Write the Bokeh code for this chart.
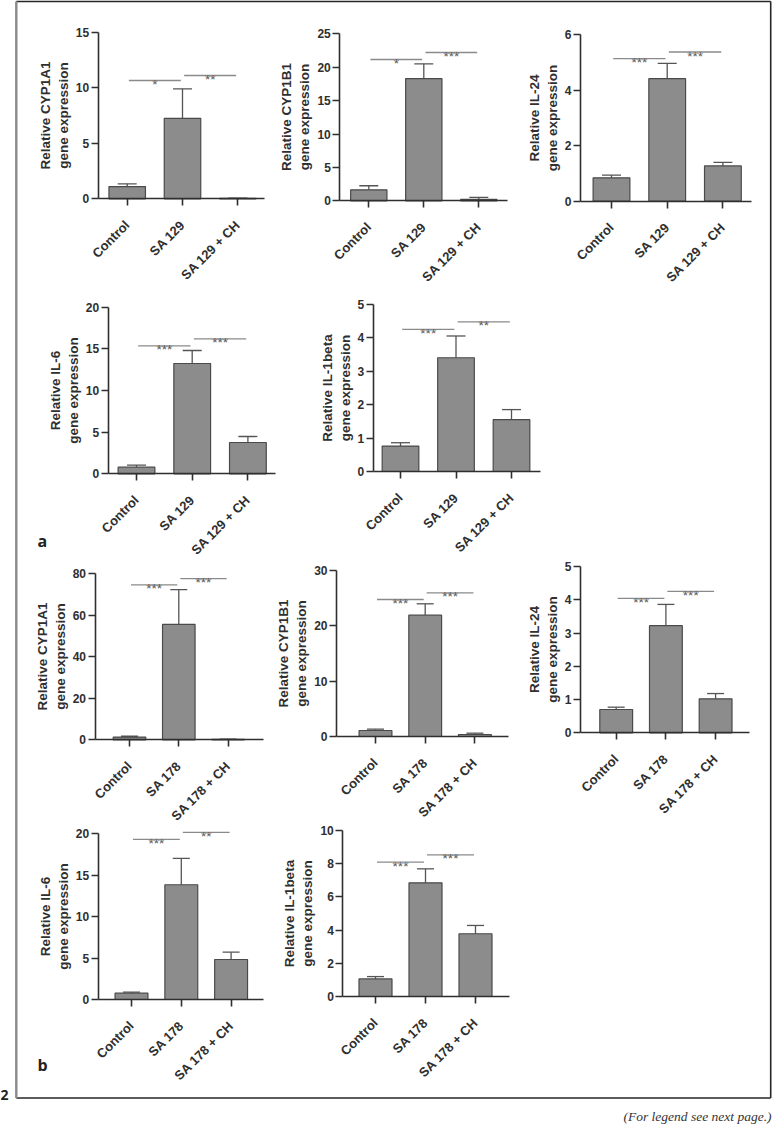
import math
from bokeh.plotting import figure
from bokeh.models import Range1d, LinearAxis, FixedTicker, Whisker, TeeHead, ColumnDataSource, Label
from bokeh.core.properties import value
from bokeh.embed import file_html
from bokeh.resources import INLINE

# ---------------- data ----------------
groups_a = ["Control", "SA 129", "SA 129 + CH"]
groups_b = ["Control", "SA 178", "SA 178 + CH"]
genes = ["CYP1A1", "CYP1B1", "IL-24", "IL-6", "IL-1beta"]

a_cyp1a1_mean = [1.10, 7.25, 0.04]
a_cyp1a1_err = [0.25, 2.65, 0.02]
a_cyp1b1_mean = [1.65, 18.3, 0.20]
a_cyp1b1_err = [0.60, 2.20, 0.30]
a_il24_mean = [0.84, 4.41, 1.27]
a_il24_err = [0.10, 0.55, 0.13]
a_il6_mean = [0.80, 13.24, 3.76]
a_il6_err = [0.25, 1.56, 0.72]
a_il1b_mean = [0.76, 3.40, 1.55]
a_il1b_err = [0.10, 0.65, 0.30]

b_cyp1a1_mean = [1.30, 55.6, 0.20]
b_cyp1a1_err = [0.40, 16.8, 0.10]
b_cyp1b1_mean = [1.08, 21.93, 0.36]
b_cyp1b1_err = [0.25, 2.05, 0.24]
b_il24_mean = [0.70, 3.22, 1.02]
b_il24_err = [0.07, 0.64, 0.16]
b_il6_mean = [0.76, 13.85, 4.83]
b_il6_err = [0.12, 3.18, 0.88]
b_il1b_mean = [1.06, 6.85, 3.78]
b_il1b_err = [0.14, 0.84, 0.50]

ticks_cyp1a1_a = [0, 5, 10, 15]
ticks_cyp1b1_a = [0, 5, 10, 15, 20, 25]
ticks_il24_a = [0, 2, 4, 6]
ticks_il6_a = [0, 5, 10, 15, 20]
ticks_il1b_a = [0, 1, 2, 3, 4, 5]
ticks_cyp1a1_b = [0, 20, 40, 60, 80]
ticks_cyp1b1_b = [0, 10, 20, 30]
ticks_il24_b = [0, 1, 2, 3, 4, 5]
ticks_il6_b = [0, 5, 10, 15, 20]
ticks_il1b_b = [0, 2, 4, 6, 8, 10]

# significance bars: (Control vs treated), (treated vs treated + CH)
sig_pairs = [(0, 1), (1, 2)]
sig_cyp1a1_a_y = [10.65, 11.1]
sig_cyp1a1_a = ["*", "**"]
sig_cyp1b1_a_y = [21.15, 22.2]
sig_cyp1b1_a = ["*", "***"]
sig_il24_a_y = [5.13, 5.37]
sig_il24_a = ["***", "***"]
sig_il6_a_y = [15.36, 16.2]
sig_il6_a = ["***", "***"]
sig_il1b_a_y = [4.25, 4.47]
sig_il1b_a = ["***", "**"]
sig_cyp1a1_b_y = [74.7, 77.7]
sig_cyp1a1_b = ["***", "***"]
sig_cyp1b1_b_y = [24.76, 25.96]
sig_cyp1b1_b = ["***", "***"]
sig_il24_b_y = [4.04, 4.25]
sig_il24_b = ["***", "***"]
sig_il6_b_y = [19.32, 20.17]
sig_il6_b = ["***", "**"]
sig_il1b_b_y = [8.09, 8.53]
sig_il1b_b = ["***", "***"]

# ---------------- layout (page pixel positions of each panel) ----------------
W, H = 772, 1125
# y-axis x, y of zero, y of top tick, x of first category, category spacing, x-axis end
layouts = [
    (97.7, 198.3, 31.7, 126.7, 55.3, 264.0),
    (339.3, 200.3, 33.3, 368.3, 55.0, 506.7),
    (580.0, 200.7, 34.0, 611.0, 55.7, 750.7),
    (107.7, 473.3, 306.7, 136.0, 55.7, 275.0),
    (372.7, 471.0, 303.7, 400.0, 55.5, 540.0),
    (94.5, 739.3, 573.3, 129.0, 49.3, 262.7),
    (336.0, 736.0, 570.0, 375.0, 49.7, 508.0),
    (580.0, 732.3, 566.0, 615.7, 49.7, 749.3),
    (97.7, 999.0, 833.3, 131.0, 49.8, 263.0),
    (342.3, 996.0, 830.0, 375.0, 50.0, 509.3),
]

panels = [
    (genes[0], groups_a, a_cyp1a1_mean, a_cyp1a1_err, ticks_cyp1a1_a, sig_cyp1a1_a_y, sig_cyp1a1_a),
    (genes[1], groups_a, a_cyp1b1_mean, a_cyp1b1_err, ticks_cyp1b1_a, sig_cyp1b1_a_y, sig_cyp1b1_a),
    (genes[2], groups_a, a_il24_mean, a_il24_err, ticks_il24_a, sig_il24_a_y, sig_il24_a),
    (genes[3], groups_a, a_il6_mean, a_il6_err, ticks_il6_a, sig_il6_a_y, sig_il6_a),
    (genes[4], groups_a, a_il1b_mean, a_il1b_err, ticks_il1b_a, sig_il1b_a_y, sig_il1b_a),
    (genes[0], groups_b, b_cyp1a1_mean, b_cyp1a1_err, ticks_cyp1a1_b, sig_cyp1a1_b_y, sig_cyp1a1_b),
    (genes[1], groups_b, b_cyp1b1_mean, b_cyp1b1_err, ticks_cyp1b1_b, sig_cyp1b1_b_y, sig_cyp1b1_b),
    (genes[2], groups_b, b_il24_mean, b_il24_err, ticks_il24_b, sig_il24_b_y, sig_il24_b),
    (genes[3], groups_b, b_il6_mean, b_il6_err, ticks_il6_b, sig_il6_b_y, sig_il6_b),
    (genes[4], groups_b, b_il1b_mean, b_il1b_err, ticks_il1b_b, sig_il1b_b_y, sig_il1b_b),
]

AXIS_C = "#2f2f2f"
BAR_FILL = "#8c8c8c"
BAR_LINE = "#4a4a4a"
SIG_C = "#8a8a8a"
SANS = "Liberation Sans"

p = figure(width=W, height=H, x_range=Range1d(0, W), y_range=Range1d(H, 0),
           x_axis_location=None, y_axis_location=None, toolbar_location=None,
           output_backend="svg", min_border=0, outline_line_color=None,
           background_fill_color="white", border_fill_color="white")
p.grid.visible = False

for k, ((gene, cats, mean, err, yticks, sig_y, sig_lab), lay) in enumerate(zip(panels, layouts)):
    ax, y0, y1, t0, dx, xe = lay
    ymax = yticks[-1]
    xn, yn = f"x{k}", f"y{k}"
    xs = -t0 / dx
    p.extra_x_ranges[xn] = Range1d(xs, xs + W / dx)
    ky = (y0 - y1) / ymax
    ys = -(H - y0) / ky
    p.extra_y_ranges[yn] = Range1d(ys, ys + H / ky)
    x_left = (ax - t0) / dx
    x_right = (xe - t0) / dx
    idx = list(range(len(cats)))

    # bars
    src = ColumnDataSource(dict(x=idx, top=mean, upper=[m + e for m, e in zip(mean, err)]))
    p.vbar(x="x", top="top", bottom=0, width=0.66, source=src, x_range_name=xn, y_range_name=yn,
           fill_color=BAR_FILL, line_color=BAR_LINE, line_width=1.2)
    p.add_layout(Whisker(source=src, base="x", lower="top", upper="upper", dimension="height",
                         lower_head=None,
                         upper_head=TeeHead(size=round(0.34 * dx), line_color="#555555", line_width=1.3),
                         line_color="#555555", line_width=1.3, x_range_name=xn, y_range_name=yn))

    # significance lines and stars
    sx0 = [a + 0.03 for a, b in sig_pairs]
    sx1 = [b - 0.03 for a, b in sig_pairs]
    p.segment(x0=sx0, y0=sig_y, x1=sx1, y1=sig_y, x_range_name=xn, y_range_name=yn,
              line_color=SIG_C, line_width=1.3)
    p.text(x=[(a + b) / 2 for a, b in sig_pairs], y=sig_y, text=sig_lab, x_range_name=xn, y_range_name=yn,
           text_align="center", text_baseline="alphabetic", y_offset=4,
           text_font=value(SANS), text_font_size="13.5px", text_color="#5a5a5a")

    # axes
    yaxis = LinearAxis(x_range_name=xn, y_range_name=yn, fixed_location=x_left, bounds=(0, ymax),
                       ticker=FixedTicker(ticks=yticks, minor_ticks=[]),
                       axis_label=f"Relative {gene}\ngene expression")
    xaxis = LinearAxis(x_range_name=xn, y_range_name=yn, fixed_location=0, bounds=(x_left, x_right),
                       ticker=FixedTicker(ticks=idx, minor_ticks=[]),
                       major_label_overrides={i: c for i, c in zip(idx, cats)},
                       major_label_orientation=math.pi / 4)
    for a in (yaxis, xaxis):
        a.axis_line_color = AXIS_C
        a.axis_line_width = 1.6
        a.major_tick_line_color = AXIS_C
        a.major_tick_line_width = 1.6
        a.major_tick_in = 0
        a.major_tick_out = 7
        a.minor_tick_line_color = None
        a.major_label_text_font = SANS
        a.major_label_text_font_style = "bold"
        a.major_label_text_color = AXIS_C
    yaxis.major_label_text_font_size = "12px"
    xaxis.major_label_text_font_size = "13px"
    yaxis.major_label_standoff = 2
    yaxis.axis_label_text_font = SANS
    yaxis.axis_label_text_font_style = "bold"
    yaxis.axis_label_text_font_size = "13.5px"
    yaxis.axis_label_text_color = AXIS_C
    yaxis.axis_label_standoff = 2
    xaxis.major_label_standoff = 17
    p.add_layout(yaxis, "left")
    p.add_layout(xaxis, "below")

# ---------------- frame, panel letters, footer ----------------
p.segment(x0=[15.8, 15.8, 770.2], y0=[0.9, 1097.5, 0.9], x1=[770.2, 770.2, 770.2], y1=[0.9, 1097.5, 1097.5],
          line_color="#262626", line_width=1.6)
p.segment(x0=[15.8], y0=[0.9], x1=[15.8], y1=[1097.5], line_color="#8a8a8a", line_width=2.4)

for txt, x, y, sz in [("a", 37, 540, "16px"), ("b", 37, 1064, "16px"), ("2", 0, 1094, "14px")]:
    p.add_layout(Label(x=x, y=y, text=txt, text_font="Open Sans", text_font_style="bold",
                       text_font_size=sz, text_color="#222222", text_baseline="alphabetic"))

p.add_layout(Label(x=771, y=1116, text="(For legend see next page.)", text_align="right",
                   text_baseline="alphabetic", text_font="Liberation Serif", text_font_style="italic",
                   text_font_size="13.5px", text_color="#333333"))

open("out.html", "w").write(file_html(p, INLINE))
